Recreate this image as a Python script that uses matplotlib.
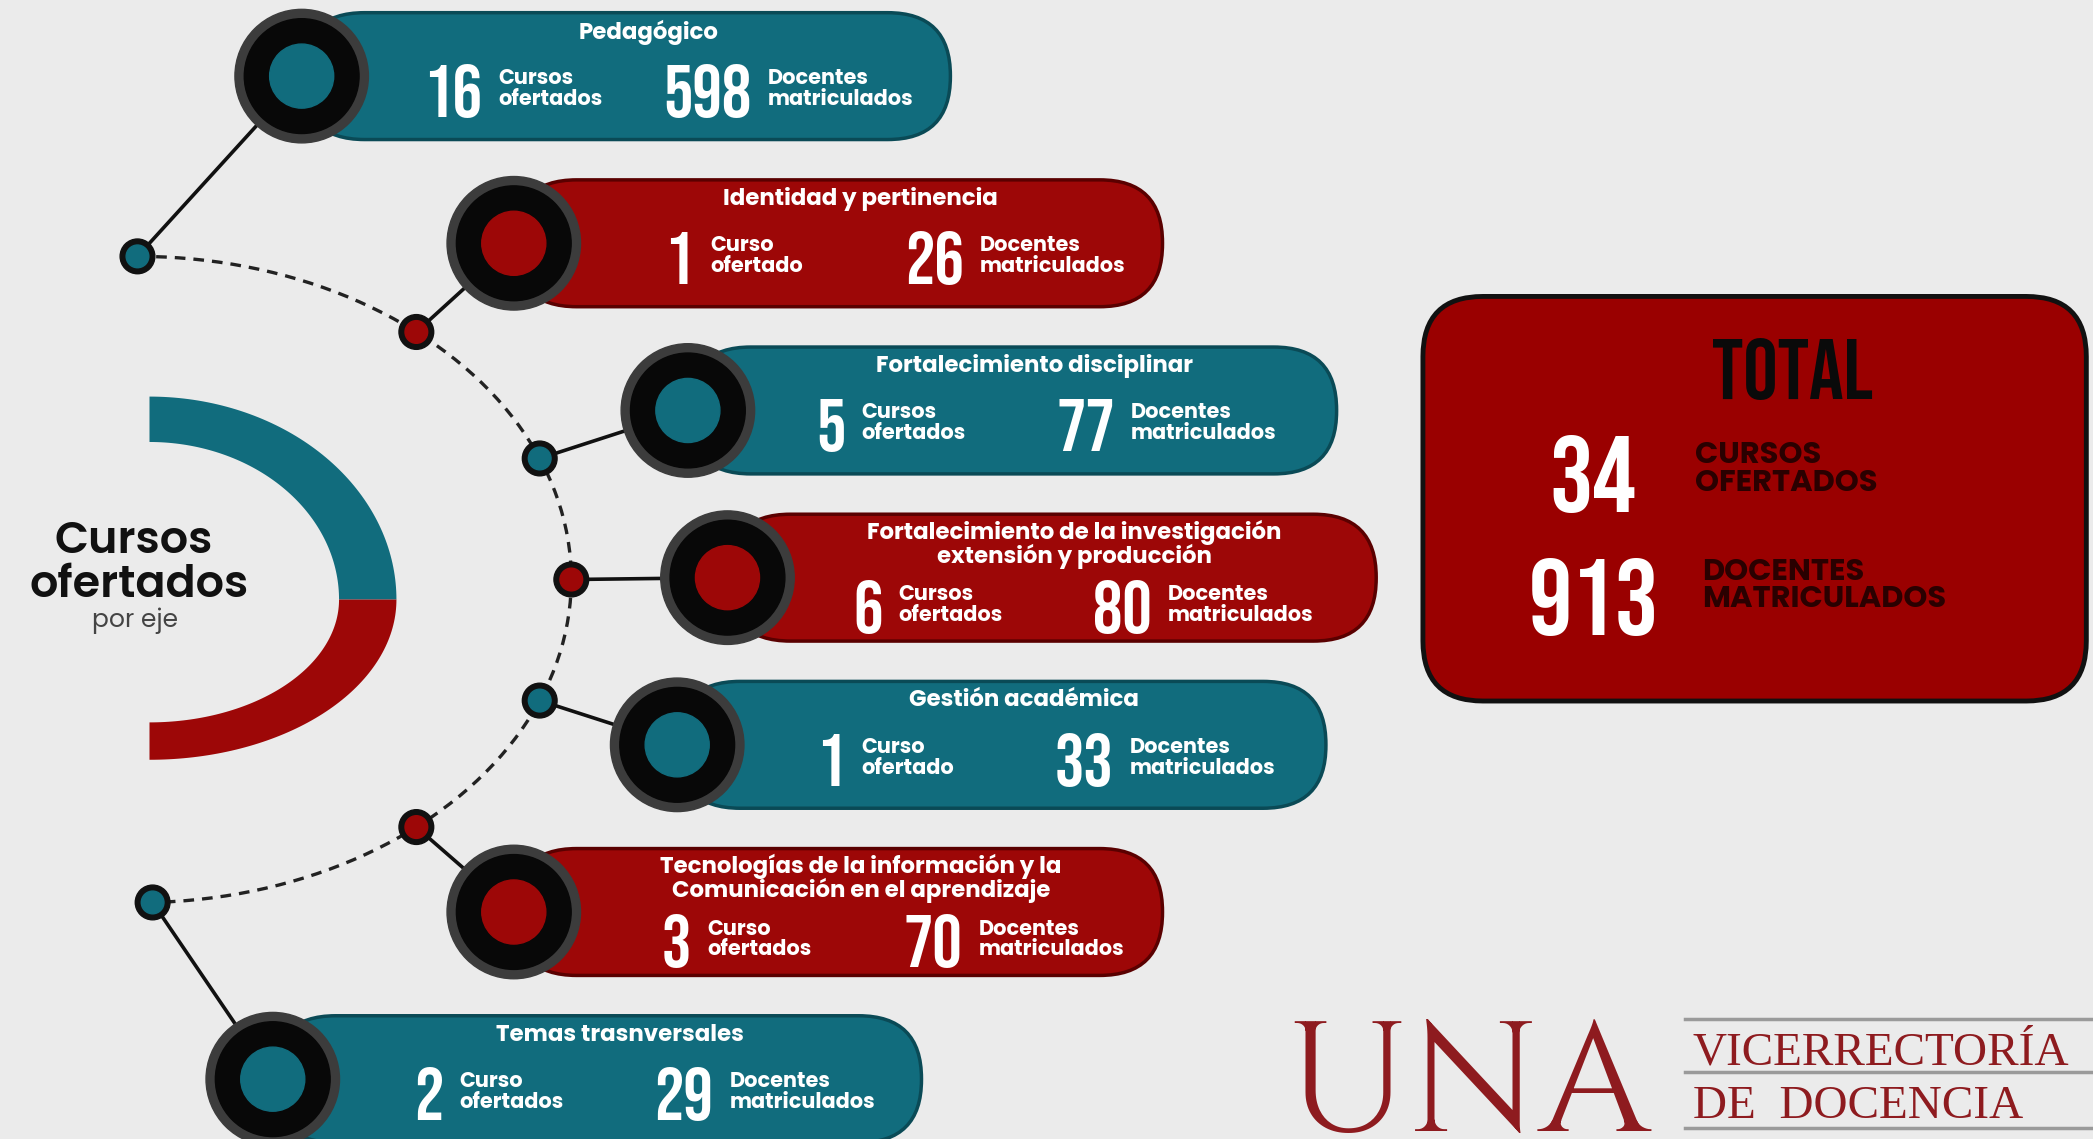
import matplotlib.pyplot as plt
import numpy as np
from matplotlib import font_manager as fm
from matplotlib.patches import FancyBboxPatch, Circle, Polygon

# datos por eje
ejes = ['Pedagógico', 'Identidad y pertinencia', 'Fortalecimiento disciplinar',
        'Fortalecimiento de la investigación\nextensión y producción',
        'Gestión académica',
        'Tecnologías de la información y la\nComunicación en el aprendizaje',
        'Temas trasnversales']
cursos = [16, 1, 5, 6, 1, 3, 2]
docentes = [598, 26, 77, 80, 33, 70, 29]
etq_cursos = ['Cursos\nofertados', 'Curso\nofertado', 'Cursos\nofertados', 'Cursos\nofertados',
              'Curso\nofertado', 'Curso\nofertados', 'Curso\nofertados']
etq_docentes = 'Docentes\nmatriculados'
total_cursos = 34
total_docentes = 913

TEAL, TEAL_D = '#116c7d', '#0a4a56'
RED, RED_D = '#9d0707', '#5a0000'
BG = '#ebebeb'
colores = [TEAL, RED, TEAL, RED, TEAL, RED, TEAL]
bordes = [TEAL_D, RED_D, TEAL_D, RED_D, TEAL_D, RED_D, TEAL_D]


def familia(cands, peso):
    for c in cands:
        ws = [f.weight for f in fm.fontManager.ttflist if f.name == c]
        if any(isinstance(w, int) and w >= peso for w in ws):
            return c
    return 'DejaVu Sans'


nombres = {f.name for f in fm.fontManager.ttflist}
if 'Bebas Neue' in nombres:
    NUM, k = 'Bebas Neue', 1.0
elif 'Oswald' in nombres:
    NUM, k = 'Oswald', 0.87
else:
    NUM, k = 'DejaVu Sans', 0.8
SANS = familia(['Poppins', 'Open Sans', 'Lato'], 700)
SANS_M = familia(['Poppins', 'Open Sans', 'Lato'], 600)
SERIF = ['Cinzel', 'Liberation Serif']

fig = plt.figure(figsize=(20.93, 11.39), dpi=100)
fig.patch.set_facecolor(BG)
ax = fig.add_axes([0, 0, 1, 1])
ax.set_xlim(0, 1568)
ax.set_ylim(853, 0)
ax.axis('off')

# arco punteado (elipse)
ecx, ecy, ea, eb = 103, 434, 325, 242
t = np.radians(np.linspace(-90, 90, 200))
ax.plot(ecx + ea * np.cos(t), ecy + eb * np.sin(t), color='#222222', lw=2.4,
        dashes=(3.2, 2.4), zorder=1)

ang_nodos = [-90, -50, -22, 0, 22, 50, 88]
dx_pill = [123, 73, 111, 117, 103, 73, 90]
lab1 = [147, 147, 130, 128, 138, 145, 140]
lab2 = [349, 349, 332, 330, 339, 348, 342]
pill_w, pill_h = 486, 95

for i, eje in enumerate(ejes):
    a = np.radians(ang_nodos[i])
    nx, ny = ecx + ea * np.cos(a), ecy + eb * np.sin(a)
    cy = 57 + i * 125.2
    cx = nx + dx_pill[i]
    # conector
    ax.plot([nx, cx], [ny, cy], color='#111111', lw=2.6, zorder=2)
    ax.add_patch(Circle((nx, ny), 13, color='#111111', zorder=3))
    ax.add_patch(Circle((nx, ny), 8.5, color=colores[i], zorder=4))
    # pastilla
    ax.add_patch(FancyBboxPatch((cx, cy - pill_h / 2), pill_w, pill_h,
                                boxstyle='round,pad=0,rounding_size=47',
                                fc=colores[i], ec=bordes[i], lw=2.5, zorder=3))
    # circulo grande
    ax.add_patch(Circle((cx, cy), 50, color='#3c3c3c', zorder=5))
    ax.add_patch(Circle((cx, cy), 43, color='#080808', zorder=5))
    ax.add_patch(Circle((cx, cy), 24, color=colores[i], zorder=6))

    dos_lineas = '\n' in eje
    ty = cy - 25 if dos_lineas else cy - 33
    ax.text(cx + 260, ty, eje, ha='center', va='center', color='white',
            fontsize=16.5, fontweight='bold', family=SANS, linespacing=0.92, zorder=7)
    yn = cy + 21 if dos_lineas else cy + 10
    ax.text(cx + lab1[i] - 12, yn + 1, str(cursos[i]), ha='right', va='center', color='white',
            fontsize=53 * k, family=NUM, zorder=7)
    ax.text(cx + lab1[i], yn, etq_cursos[i], ha='left', va='center', color='white',
            fontsize=15, fontweight='bold', family=SANS, linespacing=0.92, zorder=7)
    ax.text(cx + lab2[i] - 12, yn + 1, str(docentes[i]), ha='right', va='center', color='white',
            fontsize=53 * k, family=NUM, zorder=7)
    ax.text(cx + lab2[i], yn, etq_docentes, ha='left', va='center', color='white',
            fontsize=15, fontweight='bold', family=SANS, linespacing=0.92, zorder=7)


# semi anillo izquierdo
def cuarto(cx, cy, rxo, ryo, rxi, ryi, t0, t1, color):
    tt = np.radians(np.linspace(t0, t1, 80))
    outer = np.c_[cx + rxo * np.cos(tt), cy - ryo * np.sin(tt)]
    inner = np.c_[cx + rxi * np.cos(tt[::-1]), cy - ryi * np.sin(tt[::-1])]
    ax.add_patch(Polygon(np.vstack([outer, inner]), closed=True, fc=color, ec='none', zorder=2))


cuarto(112, 449, 185, 152, 142, 118, 0, 90, TEAL)
cuarto(112, 449, 185, 120, 142, 92, -90, 0, RED)

ax.text(100, 406, 'Cursos', ha='center', va='center', fontsize=32, fontweight='semibold',
        family=SANS_M, color='#111111')
ax.text(104, 439, 'ofertados', ha='center', va='center', fontsize=32, fontweight='semibold',
        family=SANS_M, color='#111111')
ax.text(101, 465, 'por eje', ha='center', va='center', fontsize=18, family=SANS_M,
        color='#444444')

# caja total
ax.add_patch(FancyBboxPatch((1066, 222), 497, 303, boxstyle='round,pad=0,rounding_size=45',
                            fc='#9a0000', ec='#111111', lw=3.5, zorder=3))
ax.text(1343, 276, 'TOTAL', ha='center', va='center', fontsize=62 * k, family=NUM,
        color='#0a0a0a', zorder=4)
ax.text(1193, 355, str(total_cursos), ha='center', va='center', fontsize=78 * k, family=NUM,
        color='white', zorder=4)
ax.text(1270, 352, 'CURSOS\nOFERTADOS', ha='left', va='center', fontsize=22, fontweight='bold',
        family=SANS, color='#2a0000', linespacing=0.88, zorder=4)
ax.text(1194, 447, str(total_docentes), ha='center', va='center', fontsize=78 * k, family=NUM,
        color='white', zorder=4)
ax.text(1275, 439, 'DOCENTES\nMATRICULADOS', ha='left', va='center', fontsize=22,
        fontweight='bold', family=SANS, color='#2a0000', linespacing=0.88, zorder=4)

# logo
ax.text(1100, 806, 'UNA', ha='center', va='center', fontsize=112, family=SERIF,
        color='#8e1b1f')
for yl in [763, 803, 845]:
    ax.plot([1262, 1568], [yl, yl], color='#9a9a9a', lw=2.5)
ax.text(1268, 797, 'VICERRECTORÍA', ha='left', va='baseline', fontsize=34,
        family='Liberation Serif', color='#8e1b1f')
ax.text(1268, 837, 'DE  DOCENCIA', ha='left', va='baseline', fontsize=34,
        family='Liberation Serif', color='#8e1b1f')

fig.savefig('out.png', dpi=100, facecolor=BG)
